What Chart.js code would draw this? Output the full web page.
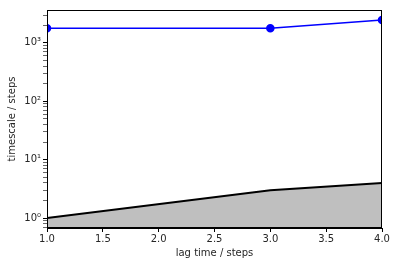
<!DOCTYPE html>
<html>
<head>
<meta charset="utf-8">
<script src="https://cdn.jsdelivr.net/npm/chart.js@4/dist/chart.umd.min.js"></script>
<style>
    html, body { margin: 0; padding: 0; background: #fff; }
    #wrap { width: 396px; height: 266px; }
</style>
</head>
<body>
<div id="wrap"><canvas id="itsChart"></canvas></div>
<script>
const lagTimes = [1, 3, 4];
const timescales = [1780, 1780, 2470];
const lagLine = [1, 3, 4];
const xTicks = [1.0, 1.5, 2.0, 2.5, 3.0, 3.5, 4.0];
const yMin = 0.675;
const yMax = 3660;

const sup = { '0': '\u2070', '1': '\u00b9', '2': '\u00b2', '3': '\u00b3', '-': '\u207b' };

const frame = {
    id: 'frame',
    afterDatasetsDraw(chart) {
        const { ctx, chartArea: a } = chart;
        ctx.save();
        ctx.strokeStyle = '#000';
        ctx.lineWidth = 1;
        ctx.strokeRect(a.left + 0.5, a.top + 0.5, a.right - a.left - 1, a.bottom - a.top - 1);
        ctx.restore();
    }
};

Chart.defaults.font.family = 'DejaVu Sans';
Chart.defaults.font.size = 10;
Chart.defaults.color = '#262626';

new Chart(document.getElementById('itsChart').getContext('2d'), {
    type: 'line',
    data: {
        datasets: [{
            label: 'timescale',
            data: lagTimes.map((x, i) => ({ x, y: timescales[i] })),
            borderColor: '#0000ff',
            backgroundColor: '#0000ff',
            borderWidth: 1.5,
            pointRadius: 3.5,
            pointHoverRadius: 3.5,
            fill: false,
            tension: 0
        }, {
            label: 'lag',
            data: lagTimes.map((x, i) => ({ x, y: lagLine[i] })),
            borderColor: '#000000',
            backgroundColor: '#bfbfbf',
            borderWidth: 2,
            pointRadius: 0,
            fill: 'start',
            tension: 0
        }]
    },
    options: {
        responsive: true,
        maintainAspectRatio: false,
        animation: false,
        layout: { padding: { top: 10, right: 14, left: 0, bottom: 0 } },
        plugins: { legend: { display: false }, tooltip: { enabled: false } },
        scales: {
            x: {
                type: 'linear',
                min: 1,
                max: 4,
                afterBuildTicks: axis => { axis.ticks = xTicks.map(v => ({ value: v })); },
                afterFit: axis => { axis.height = 38; },
                ticks: { callback: v => v.toFixed(1), padding: 1, maxRotation: 0 },
                grid: { drawOnChartArea: false, tickLength: 4, tickColor: '#000' },
                border: { color: '#000' },
                title: { display: true, text: 'lag time / steps', padding: { top: 1, bottom: 7 } }
            },
            y: {
                type: 'logarithmic',
                min: yMin,
                max: yMax,
                afterBuildTicks: axis => {
                    const t = [];
                    for (let e = -1; e <= 3; e++) {
                        for (let m = 1; m <= 9; m++) {
                            const v = m * Math.pow(10, e);
                            if (v >= yMin && v <= yMax) t.push({ value: v, major: m === 1 });
                        }
                    }
                    axis.ticks = t;
                },
                afterFit: axis => { axis.width = 47; },
                ticks: {
                    autoSkip: false,
                    padding: 2,
                    callback: function (v) {
                        const e = Math.log10(v);
                        if (Math.abs(e - Math.round(e)) > 1e-9) return '';
                        return '10' + String(Math.round(e)).split('').map(c => sup[c]).join('');
                    }
                },
                grid: {
                    drawOnChartArea: false,
                    tickLength: 4,
                    tickColor: '#000',
                    tickWidth: ctx => (ctx.tick && ctx.tick.major ? 1 : 0.6)
                },
                border: { color: '#000' },
                title: { display: true, text: 'timescale / steps', padding: { top: 6, bottom: 4 } }
            }
        }
    },
    plugins: [frame]
});
</script>
</body>
</html>
